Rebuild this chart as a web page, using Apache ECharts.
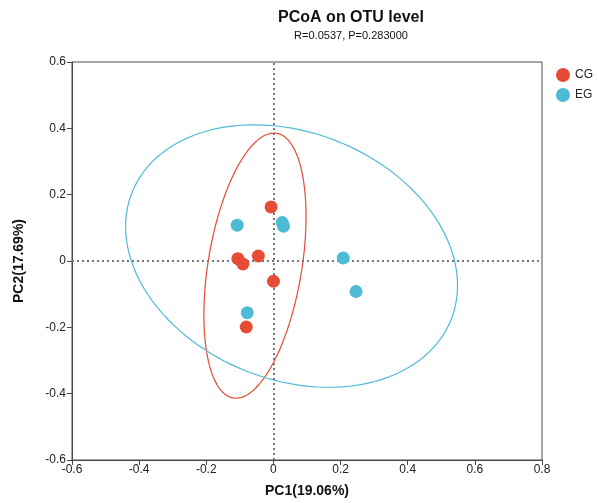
<!DOCTYPE html>
<html>
<head>
<meta charset="utf-8">
<script src="https://cdn.jsdelivr.net/npm/echarts@6/dist/echarts.min.js"></script>
<style>
  html, body { margin: 0; padding: 0; background: #fff; }
  #pcoaChart { width: 598px; height: 503px; }
</style>
</head>
<body>
<div id="pcoaChart"></div>
<script>
// PC1 / PC2 coordinates
var groups = ["CG", "EG"]
var cgPoints = [
  [-0.007, 0.163],
  [-0.106, 0.007],
  [-0.091, -0.009],
  [-0.045, 0.015],
  [0.000, -0.061],
  [-0.081, -0.199],
]
var egPoints = [
  [-0.108, 0.108],
  [0.026, 0.116],
  [0.030, 0.105],
  [0.208, 0.009],
  [0.246, -0.092],
  [-0.078, -0.156],
]
var groupColors = ["#E64B35", "#4DBBD5"]

// 95% normal confidence ellipse (same as ggplot stat_ellipse type = "norm")
function ellipseOf(pts) {
  let n = pts.length
  let mx = 0, my = 0
  pts.forEach(p => { mx += p[0]; my += p[1] })
  mx /= n
  my /= n
  let sxx = 0, syy = 0, sxy = 0
  pts.forEach(p => {
    sxx += (p[0] - mx) * (p[0] - mx)
    syy += (p[1] - my) * (p[1] - my)
    sxy += (p[0] - mx) * (p[1] - my)
  })
  sxx /= n - 1
  syy /= n - 1
  sxy /= n - 1
  // F(0.95; 2, n-1) has a closed form when df1 = 2
  let dfd = n - 1
  let f = dfd / 2 * (Math.pow(0.05, -2 / dfd) - 1)
  let r = Math.sqrt(2 * f)
  let l11 = Math.sqrt(sxx)
  let l21 = sxy / l11
  let l22 = Math.sqrt(syy - l21 * l21)
  let out = []
  for (let i = 0; i <= 120; i++) {
    let t = (i / 120) * Math.PI * 2
    let c = Math.cos(t), s = Math.sin(t)
    out.push([mx + r * l11 * c, my + r * (l21 * c + l22 * s)])
  }
  return out
}

var font = "Liberation Sans, Arial, sans-serif"
var chart = echarts.init(document.getElementById("pcoaChart"))

var option = {
  animation: false,
  title: {
    text: "PCoA on OTU level",
    subtext: "R=0.0537, P=0.283000",
    left: 346,
    textAlign: "center",
    top: 5,
    itemGap: 4,
    textStyle: { fontFamily: font, fontSize: 16, fontWeight: "bold", color: "#111" },
    subtextStyle: { fontFamily: font, fontSize: 11, color: "#111" },
  },
  legend: {
    data: groups,
    orient: "vertical",
    right: 0,
    top: 63,
    icon: "circle",
    itemWidth: 14,
    itemHeight: 14,
    itemGap: 6,
    textStyle: { fontFamily: font, fontSize: 12, color: "#222" },
  },
  grid: {
    left: 72,
    right: 56,
    top: 62,
    bottom: 42,
    show: true,
    borderColor: "#4a4a4a",
    borderWidth: 1,
  },
  xAxis: {
    type: "value",
    min: -0.6,
    max: 0.8,
    interval: 0.2,
    name: "PC1(19.06%)",
    nameLocation: "middle",
    nameGap: 24,
    nameTextStyle: { fontFamily: font, fontSize: 14, fontWeight: "bold", color: "#111" },
    axisLine: { onZero: false, lineStyle: { color: "#4a4a4a", width: 1 } },
    axisTick: { show: true, length: 5, lineStyle: { color: "#4a4a4a" } },
    axisLabel: { fontFamily: font, fontSize: 12, color: "#222", margin: 4 },
    splitLine: { show: false },
  },
  yAxis: {
    type: "value",
    min: -0.6,
    max: 0.6,
    interval: 0.2,
    name: "PC2(17.69%)",
    nameLocation: "middle",
    nameGap: 46,
    nameTextStyle: { fontFamily: font, fontSize: 14, fontWeight: "bold", color: "#111" },
    axisLine: { onZero: false, lineStyle: { color: "#4a4a4a", width: 1 } },
    axisTick: { show: true, length: 5, lineStyle: { color: "#4a4a4a" } },
    axisLabel: { fontFamily: font, fontSize: 12, color: "#222", margin: 6 },
    splitLine: { show: false },
  },
  series: [
    {
      name: "zero",
      type: "line",
      data: [],
      silent: true,
      markLine: {
        silent: true,
        symbol: "none",
        label: { show: false },
        lineStyle: { color: "#777", type: [2, 3], width: 2 },
        data: [{ xAxis: 0 }, { yAxis: 0 }],
      },
    },
    {
      name: "CG",
      type: "line",
      data: ellipseOf(cgPoints),
      showSymbol: false,
      silent: true,
      lineStyle: { color: groupColors[0], width: 1.2 },
      itemStyle: { color: groupColors[0] },
    },
    {
      name: "EG",
      type: "line",
      data: ellipseOf(egPoints),
      showSymbol: false,
      silent: true,
      lineStyle: { color: groupColors[1], width: 1.2 },
      itemStyle: { color: groupColors[1] },
    },
    {
      name: "CG",
      type: "scatter",
      data: cgPoints,
      symbolSize: 13,
      itemStyle: { color: groupColors[0], opacity: 1 },
      z: 5,
    },
    {
      name: "EG",
      type: "scatter",
      data: egPoints,
      symbolSize: 13,
      itemStyle: { color: groupColors[1], opacity: 1 },
      z: 5,
    },
  ],
}
chart.setOption(option)
</script>
</body>
</html>
